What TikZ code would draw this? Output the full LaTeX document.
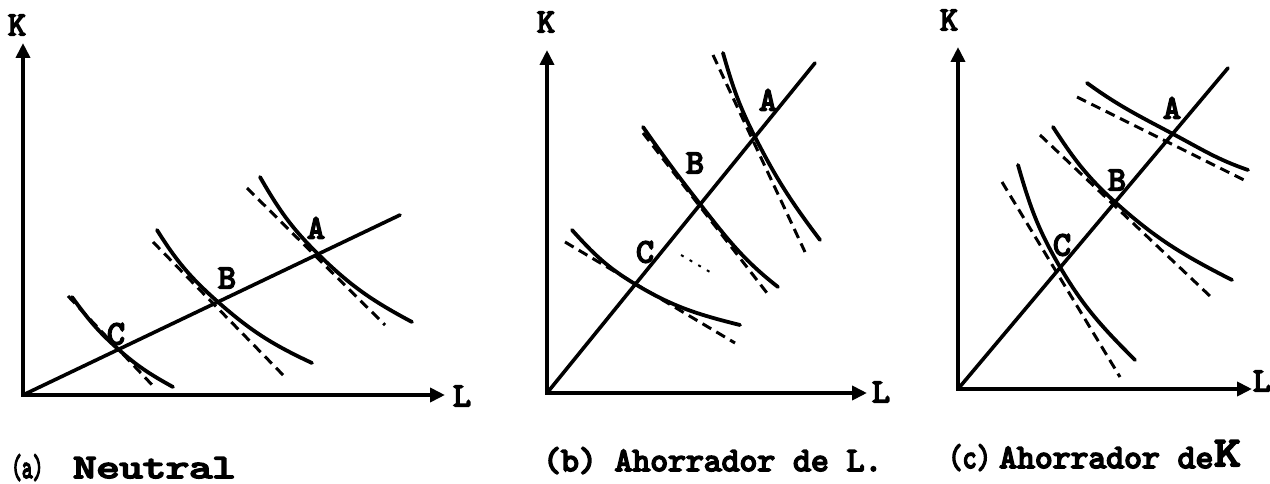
\documentclass[tikz,border=0pt]{standalone}
\usepackage{fontspec}
\usepackage{graphicx}
\newfontfamily\twb{lmmono10-regular}[Extension=.otf, FakeBold=5]
\usetikzlibrary{arrows.meta}
\begin{document}
\begin{tikzpicture}[x=1pt,y=1pt,
  axis/.style={line width=4pt, {Triangle[length=15pt,width=14pt]}-{Triangle[length=15pt,width=14pt]}},
  ray/.style={line width=3.6pt, line cap=round},
  iso/.style={line width=3.8pt, line cap=round},
  tang/.style={line width=3pt, dash pattern=on 10pt off 6pt},
  ptlab/.style={font=\twb\fontsize{34}{34}\selectfont, inner sep=0pt},
  captxt/.style={font=\twb\fontsize{34}{34}\selectfont, inner sep=0pt, anchor=base west}]
\useasboundingbox (0,0) rectangle (1270,-484);

% ---------- panel (a) ----------
\coordinate (aO) at (23,-395);
\coordinate (aY) at (23,-43);
\coordinate (aX) at (445,-395);
\coordinate (aR) at (400,-215);
\coordinate (aA) at (318,-254);
\coordinate (aB) at (218,-302);
\coordinate (aC) at (118,-349);
\draw[axis] (aY) -- (aO) -- (aX);
\draw[ray] (aO) -- (aR);
\draw[iso] (72,-297) to[out=-54,in=138.4] (aC) to[out=-41.6,in=151] (173,-387);
\draw[iso] (157,-230) to[out=-58,in=138.6] (aB) to[out=-41.4,in=155] (312,-363);
\draw[iso] (260,-177) to[out=-60,in=135.5] (aA) to[out=-44.5,in=152] (412,-322);
\draw[tang] (68,-296) -- (155,-388);
\draw[tang] (153,-242) -- (285,-377);
\draw[tang] (247,-188) -- (385,-325);
\node[ptlab] (aKl) at (17,-25) {K};
\node[ptlab] (aLl) at (462,-396) {L};
\node[ptlab] (aAl) at (316,-228) {A};
\node[ptlab] (aBl) at (227,-278) {B};
\node[ptlab] (aCl) at (116,-334) {C};

% ---------- panel (b) ----------
\coordinate (bO) at (547,-393);
\coordinate (bY) at (547,-50);
\coordinate (bX) at (867,-393);
\coordinate (bR) at (815,-63);
\coordinate (bA) at (755,-137);
\coordinate (bB) at (700,-204);
\coordinate (bC) at (635,-284);
\draw[axis] (bY) -- (bO) -- (bX);
\draw[ray] (bO) -- (bR);
\draw[iso] (572,-230) to[out=-48,in=149] (bC) to[out=-31,in=166] (740,-325);
\draw[iso] (643,-127) to[out=-55,in=128] (bB) to[out=-52,in=142] (778,-287);
\draw[iso] (723,-53) to[out=-74,in=117] (bA) to[out=-63,in=127] (820,-240);
\draw[tang] (565,-242) -- (735,-343);
\draw[tang] (643,-133) -- (767,-293);
\draw[tang] (713,-55) -- (805,-252);
\draw[line width=2pt, dash pattern=on 3pt off 7pt] (681,-255) -- (710,-272);
\node[ptlab] (bKl) at (546,-22) {K};
\node[ptlab] (bLl) at (881,-392) {L};
\node[ptlab] (bAl) at (768,-100) {A};
\node[ptlab] (bBl) at (695,-163) {B};
\node[ptlab] (bCl) at (645,-252) {C};

% ---------- panel (c) ----------
\coordinate (cO) at (958,-389);
\coordinate (cY) at (958,-47);
\coordinate (cX) at (1252,-389);
\coordinate (cR) at (1228,-68);
\coordinate (cA) at (1173,-134);
\coordinate (cB) at (1115,-202);
\coordinate (cC) at (1060,-267);
\draw[axis] (cY) -- (cO) -- (cX);
\draw[ray] (cO) -- (cR);
\draw[iso] (1087,-83) to[out=-36,in=152] (cA) to[out=-28,in=161] (1248,-170);
\draw[iso] (1053,-127) to[out=-57,in=138] (cB) to[out=-42,in=153] (1232,-280);
\draw[iso] (1018,-165) to[out=-74,in=120.5] (cC) to[out=-59.5,in=135] (1135,-360);
\draw[tang] (1077,-97) -- (1248,-182);
\draw[tang] (1040,-135) -- (1212,-298);
\draw[tang] (1002,-182) -- (1120,-377);
\node[ptlab] (cKl) at (949,-20) {K};
\node[ptlab] (cLl) at (1262,-381) {L};
\node[ptlab] (cAl) at (1172,-108) {A};
\node[ptlab] (cBl) at (1117,-180) {B};
\node[ptlab] (cCl) at (1062,-245) {C};

% ---------- captions ----------
\node[captxt] (capa) at (11,-478) {\scalebox{0.6}[1]{(a)}};
\node[captxt] (capa2) at (73,-478) {\scalebox{1.3}[1]{Neutral}};
\node[captxt] (capb) at (543,-471) {(b) Ahorrador de L.};
\node[captxt] (capc) at (948,-468) {\scalebox{0.8}[1]{(c)}};
\node[captxt] (capc2) at (999,-468) {Ahorrador de};
\node[captxt, font=\twb\fontsize{42}{42}\selectfont] (capK) at (1214,-466) {\scalebox{1.2}[1]{K}};
\end{tikzpicture}
\end{document}
